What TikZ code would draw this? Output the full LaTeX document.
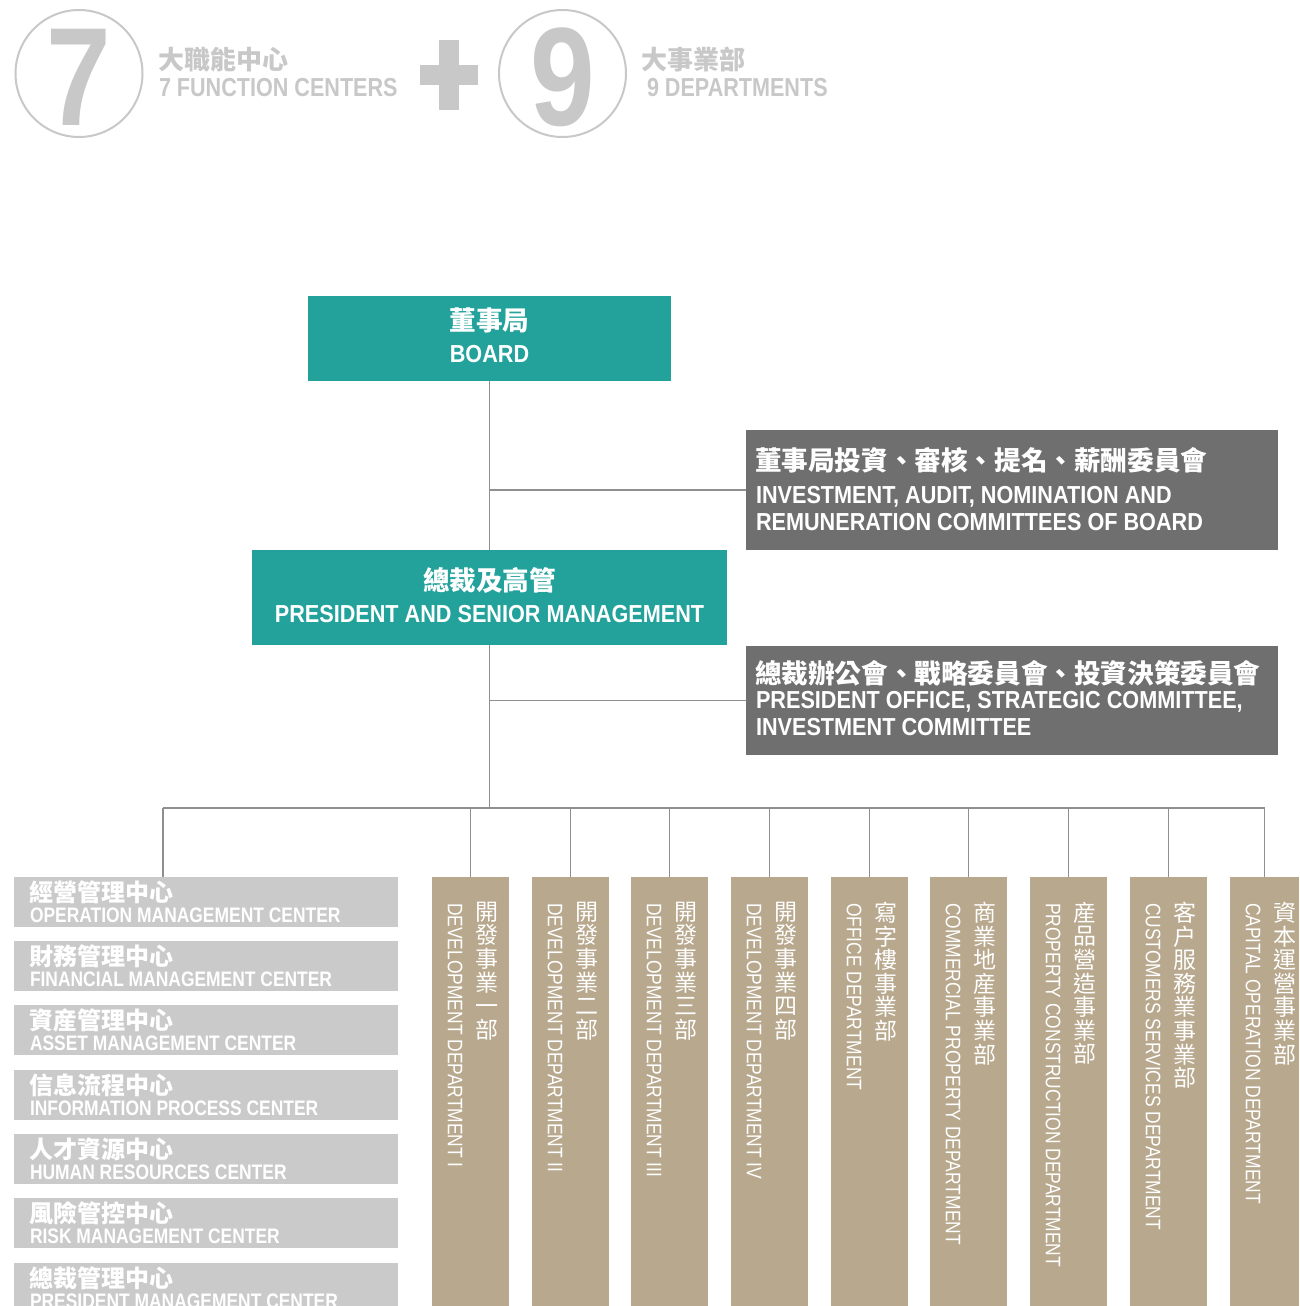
\documentclass[tikz,border=0pt]{standalone}
\usepackage{fontspec}
\setmainfont[FakeStretch=0.83, BoldFont={Liberation Sans Bold}]{Liberation Sans}
\newfontfamily\enbold[FakeStretch=0.83]{Liberation Sans Bold}
\newfontfamily\enboldw[FakeStretch=0.88]{Liberation Sans Bold}
\newfontfamily\cjk{Noto Sans CJK TC}
\definecolor{hdrgray}{HTML}{C8C8C8}
\definecolor{boardteal}{HTML}{22A29B}
\definecolor{comgray}{HTML}{6F6F6F}
\definecolor{ctrgray}{HTML}{C9CAC9}
\definecolor{depttan}{HTML}{B8A88D}
\definecolor{conngray}{HTML}{8F8F8F}
\tikzset{
  every node/.style={inner sep=0pt, outer sep=0pt},
  conn/.style={draw=conngray, line width=1.2pt},
  panel/.style={anchor=north west, draw=none},
  tealpanel/.style={panel, fill=boardteal},
  companel/.style={panel, fill=comgray, minimum width=532pt},
  ctrpanel/.style={panel, fill=ctrgray, minimum width=384pt, minimum height=50pt},
  deptpanel/.style={panel, fill=depttan, minimum width=77pt, minimum height=429pt},
  zh/.style={text=white, font=\cjk\bfseries\fontsize{26.6}{26.6}\selectfont},
  en/.style={text=white, font=\enboldw\fontsize{24.6}{24.6}\selectfont},
  ctrzh/.style={text=white, anchor=west, font=\cjk\bfseries\fontsize{24}{24}\selectfont},
  ctren/.style={text=white, anchor=base west, font=\enbold\fontsize{21}{21}\selectfont},
  deptzh/.style={text=white, anchor=north, align=center, font=\cjk\fontsize{23}{23.6}\selectfont},
  depten/.style={text=white, anchor=west, rotate=-90, font=\fontsize{21}{21}\selectfont},
  hdrzh/.style={text=hdrgray, anchor=west, font=\cjk\bfseries\fontsize{26}{26}\selectfont},
  hdren/.style={text=hdrgray, anchor=base west, font=\enbold\fontsize{26}{26}\selectfont},
  hdrnum/.style={text=hdrgray, font=\enbold\fontsize{140}{140}\selectfont},
  hdrring/.style={draw=hdrgray, line width=2pt},
}
\begin{document}
\begin{tikzpicture}[x=1pt, y=-1pt]
\useasboundingbox (0,0) rectangle (1299,1306);
\fill[white] (0,0) rectangle (1299,1306);

% ---------- header ----------
\draw[hdrring] (79,73.5) circle[radius=63.5pt];
\node[hdrnum] (seven) at (79,77.5) {7};
\node[hdrzh] (hz1) at (158,60) {大職能中心};
\node[hdren] (he1) at (159,96) {7 FUNCTION CENTERS};
\fill[hdrgray] (439,40) rectangle (459,110);
\fill[hdrgray] (420,65) rectangle (478,85);
\draw[hdrring] (562.5,73.5) circle[radius=63.5pt];
\node[hdrnum] (nine) at (563,77.5) {9};
\node[hdrzh] (hz2) at (641,60) {大事業部};
\node[hdren] (he2) at (647,96) {9 DEPARTMENTS};

% ---------- board ----------
\node[tealpanel, minimum width=363pt, minimum height=85pt] (board) at (308,296) {};
\node[zh] (boardzh) at (489.5,320) {董事局};
\node[en, anchor=base] (boarden) at (489.5,362) {BOARD};

\node[companel, minimum height=120pt] (com1) at (746,430) {};
\node[zh, anchor=west] (com1zh) at (755,460) {董事局投資、審核、提名、薪酬委員會};
\node[en, anchor=base west] (com1ena) at (756,503.5) {INVESTMENT, AUDIT, NOMINATION AND};
\node[en, anchor=base west] (com1enb) at (756,530.5) {REMUNERATION COMMITTEES OF BOARD};

\node[tealpanel, minimum width=475pt, minimum height=95pt] (pres) at (252,550) {};
\node[zh] (preszh) at (489.5,580) {總裁及高管};
\node[en, anchor=base] (presen) at (489.5,622) {PRESIDENT AND SENIOR MANAGEMENT};

\node[companel, minimum height=109pt] (com2) at (746,646) {};
\node[zh, anchor=west] (com2zh) at (755,673) {總裁辦公會、戰略委員會、投資決策委員會};
\node[en, anchor=base west] (com2ena) at (756,708.5) {PRESIDENT OFFICE, STRATEGIC COMMITTEE,};
\node[en, anchor=base west] (com2enb) at (756,735.5) {INVESTMENT COMMITTEE};

% ---------- function centers ----------
\node[ctrpanel] (l1) at (14,877) {};
\node[ctrpanel] (l2) at (14,941) {};
\node[ctrpanel] (l3) at (14,1005) {};
\node[ctrpanel] (l4) at (14,1070) {};
\node[ctrpanel] (l5) at (14,1134) {};
\node[ctrpanel] (l6) at (14,1198) {};
\node[ctrpanel, minimum height=43pt] (l7) at (14,1263) {};
\foreach \n/\y/\zh/\en in {
  1/877/經營管理中心/OPERATION MANAGEMENT CENTER,
  2/941/財務管理中心/FINANCIAL MANAGEMENT CENTER,
  3/1005/資産管理中心/ASSET MANAGEMENT CENTER,
  4/1070/信息流程中心/INFORMATION PROCESS CENTER,
  5/1134/人才資源中心/HUMAN RESOURCES CENTER,
  6/1198/風險管控中心/RISK MANAGEMENT CENTER,
  7/1263/總裁管理中心/PRESIDENT MANAGEMENT CENTER}{
  \node[ctrzh] (lz\n) at (29,\y+15) {\zh};
  \node[ctren] (le\n) at (30,\y+45) {\en};
}

% ---------- departments ----------
\node[deptpanel] (d1) at (432,877) {};
\node[deptpanel] (d2) at (532,877) {};
\node[deptpanel] (d3) at (631,877) {};
\node[deptpanel] (d4) at (731,877) {};
\node[deptpanel] (d5) at (831,877) {};
\node[deptpanel] (d6) at (930,877) {};
\node[deptpanel] (d7) at (1030,877) {};
\node[deptpanel] (d8) at (1130,877) {};
\node[deptpanel, minimum width=69pt] (d9) at (1230,877) {};

\foreach \n/\x/\zh/\en in {
  1/432/開\\發\\事\\業\\一\\部/DEVELOPMENT DEPARTMENT I,
  2/532/開\\發\\事\\業\\二\\部/DEVELOPMENT DEPARTMENT II,
  3/631/開\\發\\事\\業\\三\\部/DEVELOPMENT DEPARTMENT III,
  4/731/開\\發\\事\\業\\四\\部/DEVELOPMENT DEPARTMENT IV,
  5/831/寫\\字\\樓\\事\\業\\部/OFFICE DEPARTMENT,
  6/930/商\\業\\地\\産\\事\\業\\部/COMMERCIAL PROPERTY DEPARTMENT,
  7/1030/産\\品\\營\\造\\事\\業\\部/PROPERTY CONSTRUCTION DEPARTMENT,
  8/1130/客\\户\\服\\務\\業\\事\\業\\部/CUSTOMERS SERVICES DEPARTMENT,
  9/1230/資\\本\\運\\營\\事\\業\\部/CAPITAL OPERATION DEPARTMENT}{
  \node[deptzh] (dz\n) at (\x+55,902) {\zh};
  \node[depten] (de\n) at (\x+23,903) {\en};
}

% ---------- connectors ----------
\coordinate (bus) at (489.5,808);
\coordinate (l1in) at (163,877);
\draw[conn] (board.south) -- (pres.north);
\draw[conn] (board.south |- com1.west) -- (com1.west);
\draw[conn] (pres.south) -- (bus);
\draw[conn] (pres.south |- com2.west) -- (com2.west);
\draw[conn] (l1in |- bus) -- (d9.north |- bus);
\draw[conn] (l1in |- bus) -- (l1in);
\foreach \n in {1,...,9}{
  \draw[conn] (d\n.north |- bus) -- (d\n.north);
}
\end{tikzpicture}
\end{document}
